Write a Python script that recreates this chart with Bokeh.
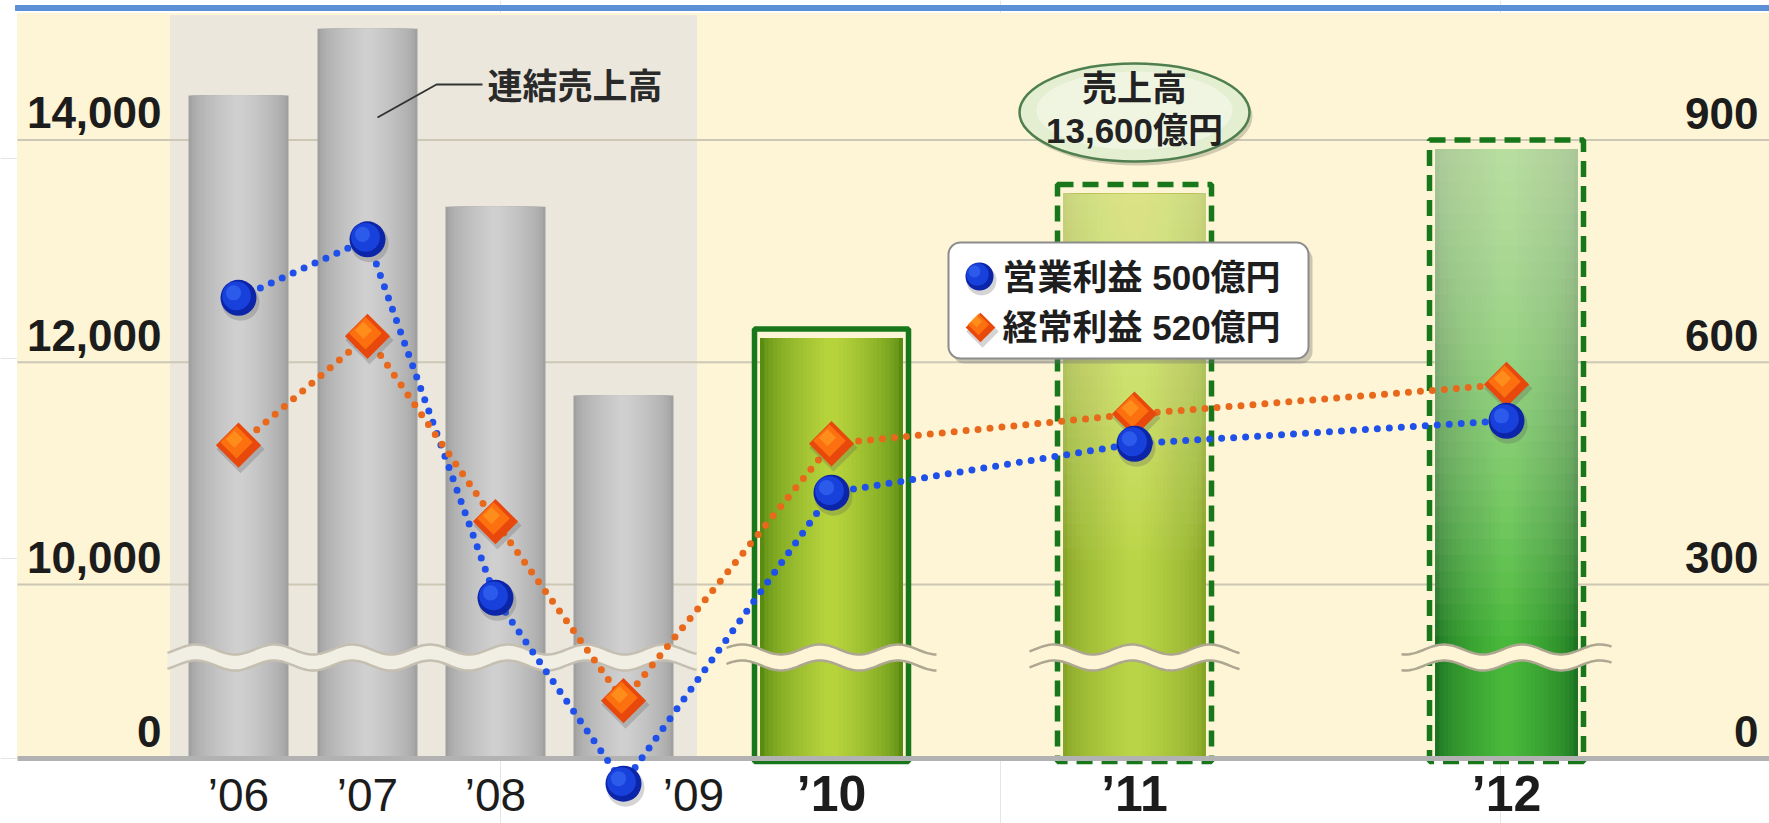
import numpy as np
from bokeh.plotting import figure
from bokeh.models import Range1d, BoxAnnotation
from bokeh.core.properties import value
from bokeh.embed import file_html
from bokeh.resources import INLINE

# ---------------- data (億円) ----------------
years = ["’06", "’07", "’08", "’09", "’10", "’11", "’12"]
sales = [14400, 15000, 13400, 11700, 12300, 13600, 14000]        # 連結売上高
operating_profit = [687, 766, 282, -34, 424, 490, 521]            # 営業利益
ordinary_profit = [488, 635, 385, 78, 490, 530, 570]              # 経常利益
sales_ticks = [0, 10000, 12000, 14000]
sales_tick_labels = ["0", "10,000", "12,000", "14,000"]
profit_ticks = [0, 300, 600, 900]
profit_tick_labels = ["0", "300", "600", "900"]
sales_series_label = "連結売上高"
callout_text = ["売上高", "13,600億円"]
legend_texts = ["営業利益 500億円", "経常利益 520億円"]
past_idx = [0, 1, 2, 3]
plan_idx = [4, 5, 6]

# ---------------- layout ----------------
W, H = 1769, 823
BASE = 758                      # pixel row of the baseline
X_POS = [238, 367, 495, 623, 831, 1134, 1506]
LABEL_DX = [0, 0, 0, 70, 0, 0, 0]
PLOT_L, PLOT_R = 17, W
TOP_D = 745
CREAM = "#fdf5d5"
PASTBG = "#ebe7dc"
TXT = "#1c1c1c"
FONT_MIX = "Liberation Sans, Noto Sans CJK JP"

# broken axes: display height (px above the baseline)
BREAK_D = 174.0
SALES_PX = 0.11113
PROFIT_PX = 0.7408


def sales_y(v):
    if v >= 9000:
        return BREAK_D + (v - 10000) * SALES_PX
    return v * (BREAK_D - 1000 * SALES_PX) / 9000


def profit_y(v):
    if v >= 200:
        return BREAK_D + (v - 300) * PROFIT_PX
    return v * PROFIT_PX


def hex2rgb(h):
    h = h.lstrip("#")
    return tuple(int(h[i:i + 2], 16) for i in (0, 2, 4))


def mix(a, b, t):
    ra, rb = hex2rgb(a), hex2rgb(b)
    return "#%02x%02x%02x" % tuple(int(round(ra[k] + (rb[k] - ra[k]) * t)) for k in range(3))


p = figure(width=W, height=H, x_range=Range1d(0, W), y_range=Range1d(BASE - H, BASE),
           output_backend="svg", toolbar_location=None, x_axis_location=None, y_axis_location=None,
           min_border=0, background_fill_color="white", border_fill_color="white",
           outline_line_color=None)

# backgrounds
p.quad(left=[PLOT_L], right=[PLOT_R], bottom=[0], top=[TOP_D], color=CREAM)
p.quad(left=[PLOT_L - 2], right=[PLOT_R], bottom=[BASE - 10], top=[BASE - 5], color="#5b8fd6")
past_left = X_POS[past_idx[0]] - 68
past_right = X_POS[past_idx[-1]] + 73
p.quad(left=[past_left], right=[past_right], bottom=[0], top=[743], color=PASTBG)

# gridlines
grid_d = [sales_y(t) for t in sales_ticks[1:]]
p.segment(x0=[PLOT_L] * len(grid_d), x1=[PLOT_R] * len(grid_d), y0=grid_d, y1=grid_d,
          line_color="#cdc8b6", line_width=2)

sales_d = [sales_y(v) for v in sales]


def hgrad(xs, tops, width, edge, center, n=16, gamma=0.6, min_frac=0.1):
    for i in range(n):
        t = i / (n - 1)
        w = width * (1 - (1 - min_frac) * t)
        p.vbar(x=xs, top=tops, bottom=0, width=w, fill_color=mix(edge, center, t ** gamma),
               line_color=None)


def vgrad(xs, tops, width, color, n=30, alpha=0.035, start=0.2):
    for j in range(n):
        bots = [t * (start + (1 - start) * j / n) for t in tops]
        p.vbar(x=xs, top=tops, bottom=bots, width=width, fill_color=color, fill_alpha=alpha,
               line_color=None)


# past (grey) bars
hgrad([X_POS[i] for i in past_idx], [sales_d[i] for i in past_idx], 100, "#a0a0a0", "#cfcfcf")

# plan bars
styles = {
    4: dict(edge="#5b8c12", center="#b6d33c", over=None, alpha=0, start=0, dash="solid"),
    5: dict(edge="#86a426", center="#b9d446", over="#f8f3cc", alpha=0.03, start=0.35, dash="16 9"),
    6: dict(edge="#1c7422", center="#48b83a", over="#f2f7dc", alpha=0.035, start=0.2, dash="16 9"),
}
for i in plan_idx:
    st = styles[i]
    inner_top = [sales_d[i] - 9]
    hgrad([X_POS[i]], inner_top, 143, st["edge"], st["center"])
    if st["over"]:
        vgrad([X_POS[i]], inner_top, 143, st["over"], alpha=st["alpha"], start=st["start"])
    p.vbar(x=[X_POS[i]], top=[sales_d[i]], bottom=-3, width=154, fill_color=None,
           line_color="#18761b", line_width=5.5, line_dash=st["dash"])


# axis break waves
def wave(x0, x1, fill, edge):
    xs = np.linspace(x0, x1, int((x1 - x0) / 2) + 2)
    up = BREAK_D - 65 + 5 * np.sin(2 * np.pi * (xs - 20) / 78)
    lo = up - 16
    p.patch(np.concatenate([xs, xs[::-1]]), np.concatenate([up, lo[::-1]]),
            fill_color=fill, line_color=None)
    p.line(xs, up, line_color=edge, line_width=2.5)
    p.line(xs, lo, line_color=edge, line_width=2.5)


wave(past_left - 3, past_right, "#f1eee3", "#c4bfb0")
for i in plan_idx:
    wave(X_POS[i] - 105, X_POS[i] + 105, CREAM, "#ada690")

# baseline
p.segment(x0=[PLOT_L], x1=[PLOT_R], y0=[0], y1=[0], line_color="#b2b2b2", line_width=5)

# profit lines
op_d = [profit_y(v) for v in operating_profit]
ord_d = [profit_y(v) for v in ordinary_profit]
p.line(X_POS, op_d, line_color="#1f50ea", line_width=7, line_dash="0 12", line_cap="round")
p.line(X_POS, ord_d, line_color="#e8681c", line_width=7, line_dash="0 12", line_cap="round")


def diamond(xs, ys, size, level="glyph"):
    ang = np.pi / 4
    p.scatter([x + 2 for x in xs], [y - 4 for y in ys], marker="square", size=size + 2, angle=ang,
              fill_color="#555555", fill_alpha=0.25, line_color=None, level=level)
    p.scatter(xs, ys, marker="square", size=size, angle=ang, fill_color="#e9480c",
              line_color=None, level=level)
    p.scatter([x - 2 for x in xs], [y + 3 for y in ys], marker="square", size=size * 0.72,
              angle=ang, fill_color="#ff7812", fill_alpha=0.85, line_color=None, level=level)
    p.scatter([x - 4 for x in xs], [y + 6 for y in ys], marker="square", size=size * 0.38,
              angle=ang, fill_color="#ffa024", fill_alpha=0.6, line_color=None, level=level)


def ball(xs, ys, size, level="glyph"):
    p.scatter([x + 2 for x in xs], [y - 4 for y in ys], marker="circle", size=size + 2,
              fill_color="#555555", fill_alpha=0.25, line_color=None, level=level)
    p.scatter(xs, ys, marker="circle", size=size, fill_color="#0c24a8", line_color=None, level=level)
    p.scatter([x - 2 for x in xs], [y + 2 for y in ys], marker="circle", size=size * 0.8,
              fill_color="#1a44e0", fill_alpha=0.9, line_color=None, level=level)
    p.scatter([x - 5 for x in xs], [y + 5 for y in ys], marker="circle", size=size * 0.42,
              fill_color="#3b6ef6", fill_alpha=0.6, line_color=None, level=level)


diamond(X_POS, ord_d, 32)
ball(X_POS, op_d, 36)

# axis tick labels (left: sales, right: profit)
p.text(x=[161] * len(sales_ticks), y=[sales_y(t) + 27 for t in sales_ticks], text=sales_tick_labels,
       text_font=value("Liberation Sans"), text_font_style="bold", text_font_size="44px",
       text_align="right", text_baseline="middle", text_color=TXT)
p.text(x=[1758] * len(profit_ticks), y=[profit_y(t) + 27 for t in profit_ticks], text=profit_tick_labels,
       text_font=value("Liberation Sans"), text_font_style="bold", text_font_size="44px",
       text_align="right", text_baseline="middle", text_color=TXT)

# category labels
p.text(x=[X_POS[i] + LABEL_DX[i] for i in past_idx], y=[-36] * len(past_idx),
       text=[years[i] for i in past_idx],
       text_font=value("Liberation Sans"), text_font_size="46px",
       text_align="center", text_baseline="middle", text_color=TXT)
p.text(x=[X_POS[i] + LABEL_DX[i] for i in plan_idx], y=[-35] * len(plan_idx),
       text=[years[i] for i in plan_idx],
       text_font=value("Liberation Sans"), text_font_style="bold", text_font_size="50px",
       text_align="center", text_baseline="middle", text_color=TXT)

# series annotation with leader line
ax = X_POS[1]
p.line([ax + 10, ax + 69, ax + 115], [BASE - 117, BASE - 84, BASE - 84], line_color="#333333",
       line_width=2)
p.text(x=[ax + 120], y=[BASE - 83], text=[sales_series_label], text_font=value("Noto Sans CJK JP"),
       text_font_style="bold", text_font_size="35px", text_align="left", text_baseline="middle",
       text_color="#2a2a2a")

# callout ellipse for '11 sales
cx, cy = X_POS[5], sales_d[5] + 72
p.ellipse(x=[cx + 3], y=[cy - 4], width=230, height=98, fill_color="#7a7a6a", fill_alpha=0.35,
          line_color=None)
p.ellipse(x=[cx], y=[cy], width=230, height=98, fill_color="#e4eed0", line_color="#4f7f4f",
          line_width=2.5)
p.ellipse(x=[cx], y=[cy + 2], width=196, height=78, fill_color="#f3f6e6", fill_alpha=0.8,
          line_color=None)
p.text(x=[cx, cx], y=[cy + 24, cy - 18], text=callout_text, text_font=value(FONT_MIX),
       text_font_style="bold", text_font_size="35px", text_align="center", text_baseline="middle",
       text_color="#222222")

# legend box
LG_L, LG_R, LG_T, LG_B = 948, 1308, 516, 400
p.add_layout(BoxAnnotation(left=LG_L + 4, right=LG_R + 4, top=LG_T - 5, bottom=LG_B - 5,
                           fill_color="#707070", fill_alpha=0.35, line_alpha=0, border_radius=12))
p.add_layout(BoxAnnotation(left=LG_L, right=LG_R, top=LG_T, bottom=LG_B, fill_color="white",
                           fill_alpha=1, line_color="#8c8c8c", line_alpha=1, line_width=2,
                           border_radius=12))
ball([979], [482], 28, level="overlay")
diamond([980], [431], 21, level="overlay")
p.text(x=[1002, 1002], y=[481, 431], text=legend_texts, text_font=value(FONT_MIX),
       text_font_style="bold", text_font_size="35px", text_align="left", text_baseline="middle",
       text_color="#1e1e1e", level="overlay")

open("out.html", "w").write(file_html(p, INLINE))
